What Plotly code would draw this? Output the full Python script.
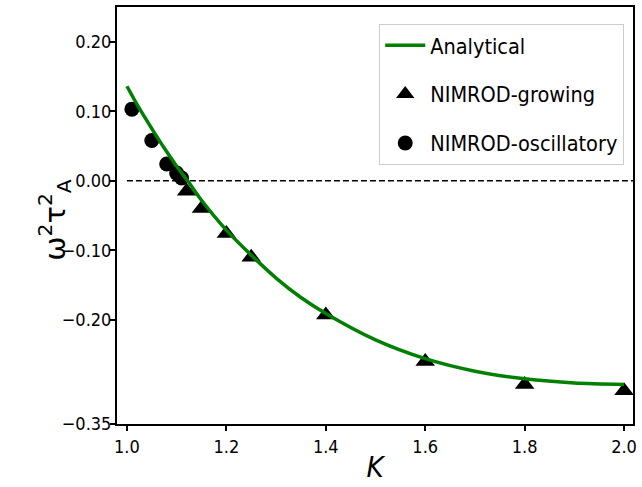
import plotly.graph_objects as go

# Analytical growth-rate curve, omega^2 tau_A^2 versus K
analytic_k = [1.00, 1.025, 1.05, 1.075, 1.10, 1.125, 1.15, 1.20, 1.25, 1.30,
              1.35, 1.40, 1.50, 1.60, 1.70, 1.80, 1.90, 2.00]
analytic_w2 = [0.136, 0.104, 0.075, 0.047, 0.021, -0.003, -0.028, -0.071, -0.107,
               -0.140, -0.168, -0.191, -0.229, -0.256, -0.274, -0.285, -0.291, -0.293]

# NIMROD runs: growing modes
growing_k = [1.12, 1.15, 1.20, 1.25, 1.40, 1.60, 1.80, 2.00]
growing_w2 = [-0.015, -0.040, -0.076, -0.110, -0.193, -0.260, -0.293, -0.302]

# NIMROD runs: oscillatory modes
osc_k = [1.01, 1.05, 1.08, 1.10, 1.11]
osc_w2 = [0.103, 0.058, 0.024, 0.011, 0.004]

# Marginal-stability reference line
zero_k = [1.0, 2.1]
zero_w2 = [0.0, 0.0]

x_ticks = [1.0, 1.2, 1.4, 1.6, 1.8, 2.0]
x_ticktext = ["1.0", "1.2", "1.4", "1.6", "1.8", "2.0"]
y_ticks = [0.20, 0.10, 0.00, -0.10, -0.20, -0.35]
y_ticktext = ["0.20", "0.10", "0.00", "\u22120.10", "\u22120.20", "\u22120.35"]

FONT = "DejaVu Sans Condensed, DejaVu Sans, sans-serif"

fig = go.Figure()

fig.add_trace(go.Scatter(
    x=zero_k, y=zero_w2, mode="lines", showlegend=False, hoverinfo="skip",
    line=dict(color="black", width=1.4, dash="6px,3px"),
))
fig.add_trace(go.Scatter(
    x=growing_k, y=growing_w2, mode="markers", name="NIMROD-growing",
    legendrank=2, legendgroup="g",
    marker=dict(symbol="triangle-up", size=17, color="black"),
))
fig.add_trace(go.Scatter(
    x=osc_k, y=osc_w2, mode="markers", name="NIMROD-oscillatory",
    legendrank=3, legendgroup="o",
    marker=dict(symbol="circle", size=15, color="black"),
))
fig.add_trace(go.Scatter(
    x=analytic_k, y=analytic_w2, mode="lines", name="Analytical",
    legendrank=1, legendgroup="a",
    line=dict(color="#008000", width=3.5, shape="spline", smoothing=0.8),
))

fig.update_layout(
    width=642, height=487,
    margin=dict(l=117, r=9, t=5, b=63),
    paper_bgcolor="white", plot_bgcolor="white",
    font=dict(family=FONT, color="black", size=18),
    legend=dict(
        x=0.983, y=0.96, xanchor="right", yanchor="top",
        bordercolor="#cccccc", borderwidth=1, bgcolor="rgba(255,255,255,0.8)",
        font=dict(size=21.5, family=FONT),
        itemwidth=40, tracegroupgap=18,
    ),
    xaxis=dict(
        range=[0.98, 2.018],
        tickvals=x_ticks, ticktext=x_ticktext,
        showgrid=False, zeroline=False,
        showline=True, linecolor="black", linewidth=2, mirror=True,
        ticks="outside", ticklen=5, tickwidth=1.5, tickcolor="black",
        title=dict(text="<i>K</i>", font=dict(size=29, family=FONT), standoff=1),
    ),
    yaxis=dict(
        range=[-0.35, 0.25],
        tickvals=y_ticks, ticktext=y_ticktext,
        showgrid=False, zeroline=False,
        showline=True, linecolor="black", linewidth=2, mirror=True,
        ticks="outside", ticklen=5, tickwidth=1.5, tickcolor="black",
        ticklabelstandoff=-5,
    ),
    annotations=[dict(
        text="\u03c9<sup>2</sup>\u03c4<sup>2</sup><sub>A</sub>",
        textangle=-90, xref="paper", yref="paper",
        x=-0.122, y=0.49, xanchor="center", yanchor="middle",
        showarrow=False, font=dict(size=29, family="DejaVu Sans"),
    )],
)

fig.write_html("out.html")
